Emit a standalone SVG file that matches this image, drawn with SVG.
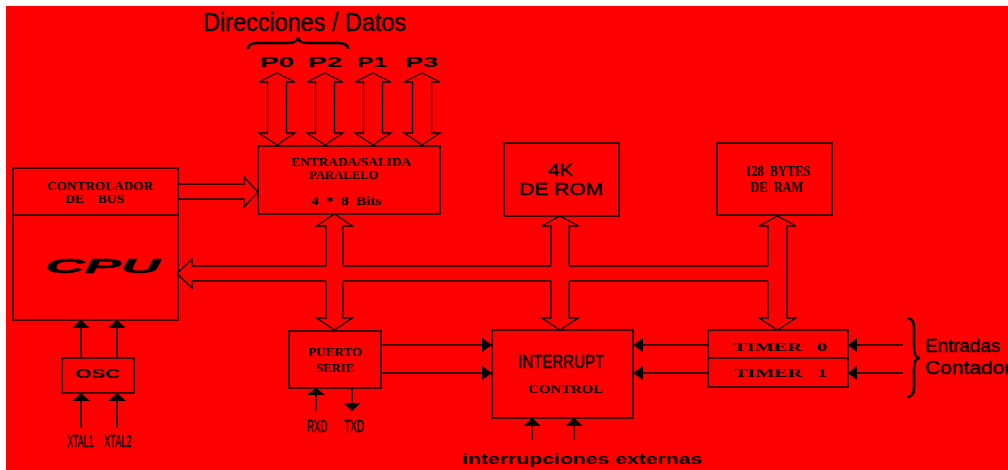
<svg xmlns="http://www.w3.org/2000/svg" width="1008" height="470" viewBox="0 0 1008 470">
<style>
.b{fill:none;stroke:#000;stroke-width:1.5}
.o{fill:none;stroke:#000;stroke-width:1.3;stroke-linejoin:miter}
.f{fill:#000;stroke:none}
.br{fill:none;stroke:#000;stroke-width:2.6}
.s{font-family:"Liberation Serif",serif;font-weight:bold;fill:#000}
.a{font-family:"Liberation Sans",sans-serif;fill:#000}
.t{stroke:#000;stroke-width:0.4}
.ab{font-family:"Liberation Sans",sans-serif;font-weight:bold;fill:#000}
</style>
<rect x="0" y="0" width="1008" height="470" fill="#fff"/>
<rect x="6" y="6" width="1002" height="464" fill="#ff0000"/>

<g id="title">
<text class="a t" x="203" y="31" font-size="25" textLength="203" lengthAdjust="spacingAndGlyphs">Direcciones / Datos</text>
<path class="br" d="M248,49 Q248,43 258,43 L288,43 Q298,43 298,37 Q298,43 308,43 L338,43 Q348,43 348,49"/>
</g>

<g id="ports">
<text class="ab" x="260" y="67" font-size="14" textLength="34" lengthAdjust="spacingAndGlyphs">P0</text>
<text class="ab" x="308" y="67" font-size="14" textLength="34" lengthAdjust="spacingAndGlyphs">P2</text>
<text class="ab" x="357" y="67" font-size="14" textLength="30" lengthAdjust="spacingAndGlyphs">P1</text>
<text class="ab" x="405" y="67" font-size="14" textLength="33" lengthAdjust="spacingAndGlyphs">P3</text>
<path class="o" d="M277,73 L295,82 L286.5,82 L286.5,133 L295,133 L277,145 L259,133 L267.5,133 L267.5,82 L259,82 Z"/>
<path class="o" d="M325,73 L343,82 L334.5,82 L334.5,133 L343,133 L325,145 L307,133 L315.5,133 L315.5,82 L307,82 Z"/>
<path class="o" d="M373,73 L391,82 L382.5,82 L382.5,133 L391,133 L373,145 L355,133 L363.5,133 L363.5,82 L355,82 Z"/>
<path class="o" d="M422,73 L440,82 L431.5,82 L431.5,133 L440,133 L422,145 L404,133 L412.5,133 L412.5,82 L404,82 Z"/>
</g>

<g id="cpu">
<rect class="b" x="13" y="168" width="165" height="152"/>
<line class="b" x1="13" y1="215" x2="178" y2="215"/>
<text class="s" x="47" y="190" font-size="12" textLength="106" lengthAdjust="spacingAndGlyphs">CONTROLADOR</text>
<text class="s" x="65" y="203" font-size="12" textLength="59" lengthAdjust="spacingAndGlyphs" xml:space="preserve">DE    BUS</text>
<text class="ab t" x="45" y="273" font-size="21" font-style="italic" textLength="115" lengthAdjust="spacingAndGlyphs">CPU</text>
</g>

<g id="es">
<rect class="b" x="258" y="146" width="182" height="68"/>
<text class="s" x="291" y="166" font-size="12" textLength="120" lengthAdjust="spacingAndGlyphs">ENTRADA/SALIDA</text>
<text class="s" x="309" y="179" font-size="12" textLength="69" lengthAdjust="spacingAndGlyphs">PARALELO</text>
<text class="s" x="311" y="205" font-size="13" textLength="70" lengthAdjust="spacingAndGlyphs" xml:space="preserve">4  *  8  Bits</text>
</g>

<g id="rom">
<rect class="b" x="504" y="143" width="115" height="73"/>
<text class="a t" x="548" y="176" font-size="16" textLength="25" lengthAdjust="spacingAndGlyphs">4K</text>
<text class="a t" x="519" y="195" font-size="16" textLength="84" lengthAdjust="spacingAndGlyphs">DE ROM</text>
</g>

<g id="ram">
<rect class="b" x="717" y="143" width="115" height="72"/>
<text class="s" x="745" y="176" font-size="15" textLength="65" lengthAdjust="spacingAndGlyphs" xml:space="preserve">128  BYTES</text>
<text class="s" x="750" y="192" font-size="15" textLength="53" lengthAdjust="spacingAndGlyphs" xml:space="preserve">DE  RAM</text>
</g>

<g id="puerto">
<rect class="b" x="289" y="331" width="92" height="57"/>
<text class="s" x="308" y="356" font-size="13" textLength="54" lengthAdjust="spacingAndGlyphs">PUERTO</text>
<text class="s" x="316" y="372" font-size="13" textLength="38" lengthAdjust="spacingAndGlyphs">SERIE</text>
<text class="a t" x="307" y="432" font-size="17" textLength="20" lengthAdjust="spacingAndGlyphs">RXD</text>
<text class="a t" x="344" y="432" font-size="17" textLength="20" lengthAdjust="spacingAndGlyphs">TXD</text>
</g>

<g id="interrupt">
<rect class="b" x="492" y="330" width="141" height="88"/>
<text class="a t" x="518" y="368" font-size="18" textLength="86" lengthAdjust="spacingAndGlyphs">INTERRUPT</text>
<text class="s" x="528" y="393" font-size="13" textLength="75" lengthAdjust="spacingAndGlyphs">CONTROL</text>
<text class="ab" x="462" y="464" font-size="15" textLength="240" lengthAdjust="spacingAndGlyphs">interrupciones externas</text>
</g>

<g id="timer">
<rect class="b" x="708" y="330" width="140" height="57"/>
<line class="b" x1="708" y1="358" x2="848" y2="358"/>
<text class="s" x="733" y="351" font-size="12" textLength="94" lengthAdjust="spacingAndGlyphs" xml:space="preserve">TIMER   0</text>
<text class="s" x="734" y="377" font-size="12" textLength="93" lengthAdjust="spacingAndGlyphs" xml:space="preserve">TIMER   1</text>
<path class="br" d="M907,318 Q914,318 914,328 L914,348 Q914,358 920,358 Q914,358 914,368 L914,387 Q914,397 907,397"/>
<text class="a t" x="925" y="352" font-size="18" textLength="75" lengthAdjust="spacingAndGlyphs">Entradas</text>
<text class="a t" x="925" y="374" font-size="18" textLength="86" lengthAdjust="spacingAndGlyphs">Contador</text>
</g>

<g id="osc">
<rect class="b" x="62" y="358" width="72" height="35"/>
<text class="ab" x="75" y="378" font-size="12" textLength="45" lengthAdjust="spacingAndGlyphs">OSC</text>
<text class="a t" transform="translate(67,447) scale(0.52,1)" x="0" y="0" font-size="17">XTAL1</text>
<text class="a t" transform="translate(104,447) scale(0.54,1)" x="0" y="0" font-size="17">XTAL2</text>
</g>

<g id="connectors">
<path class="o" d="M178,184 L244,184 L244,177 L258,192 L244,207 L244,199 L178,199"/>
<path class="o" d="M192,266 L192,259 L177,273.5 L192,288 L192,281"/>
<path class="o" d="M192,266 L326,266 M343,266 L551,266 M569,266 L768,266 M192,281 L326,281 M343,281 L551,281 M569,281 L768,281"/>
<path class="o" d="M326,266 L326,226 L316.5,226 L334.5,214 L352.5,226 L343,226 L343,266 M326,281 L326,318 L316.5,318 L334.5,330 L352.5,318 L343,318 L343,281"/>
<path class="o" d="M551,266 L551,226 L541.5,226 L560,216 L578.5,226 L569,226 L569,266 M551,281 L551,318 L541.5,318 L560,330 L578.5,318 L569,318 L569,281"/>
<path class="o" d="M768,266 L768,226 L759,226 L777.5,216 L796,226 L787,226 L787,318 L796,318 L777.5,330 L759,318 L768,318 L768,281"/>
<path class="b" d="M381,345 L483,345 M381,373 L483,373"/>
<polygon class="f" points="482,338 492,345 482,352"/>
<polygon class="f" points="482,366 492,373 482,380"/>
<path class="b" d="M708,345 L642,345 M708,373 L642,373"/>
<polygon class="f" points="643,338 633,345 643,352"/>
<polygon class="f" points="643,366 633,373 643,380"/>
<path class="b" d="M903,345 L856,345 M903,373 L856,373"/>
<polygon class="f" points="857,338 848,345 857,352"/>
<polygon class="f" points="857,366 848,373 857,380"/>
<path class="b" d="M532,440 L532,425 M574,440 L574,425"/>
<polygon class="f" points="523,426 532,418 541,426"/>
<polygon class="f" points="565,426 574,418 583,426"/>
<path class="b" d="M316,411 L316,393 M352,388 L352,404"/>
<polygon class="f" points="307,395 316,388 325,395"/>
<polygon class="f" points="343,403 352,411 361,403"/>
<path class="b" d="M81,358 L81,326 M117,358 L117,326 M81,428 L81,399 M117,428 L117,399"/>
<polygon class="f" points="72,328 81,320 90,328"/>
<polygon class="f" points="108,328 117,320 126,328"/>
<polygon class="f" points="72,401 81,393 90,401"/>
<polygon class="f" points="108,401 117,393 126,401"/>
</g>
</svg>
